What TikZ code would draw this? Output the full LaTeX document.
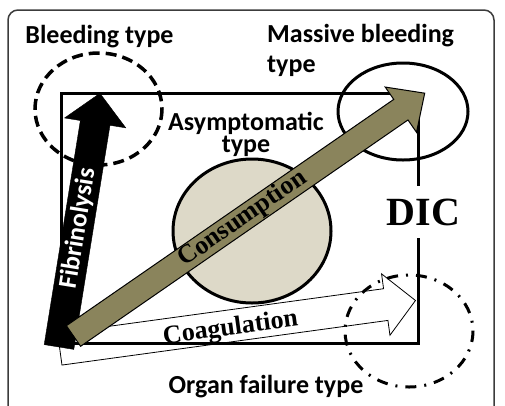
\documentclass[tikz,border=0pt]{standalone}
\usepackage{fontspec}
\setmainfont{Liberation Serif}
\newfontfamily\typefont{Carlito}
\usetikzlibrary{calc}
\definecolor{dicOlive}{RGB}{138,132,92}
\definecolor{dicBeige}{RGB}{221,217,200}
\definecolor{dicFrame}{RGB}{60,60,60}
% arrow shape along the local x axis: length, half shaft, half head, head length
\newcommand{\typearrow}[5]{%
  \draw[#1] (0,-#3) -- ({#2-#5},-#3) -- ({#2-#5},-#4) -- (#2,0)
    -- ({#2-#5},#4) -- ({#2-#5},#3) -- (0,#3) -- cycle;}

\tikzset{
  typelabel/.style={font=\typefont\bfseries\fontsize{26}{22}\selectfont, inner sep=0pt},
  arrowlabel/.style={font=\bfseries\fontsize{26}{28}\selectfont, inner sep=0pt},
  thickline/.style={line width=3pt},
}

\begin{document}
\begin{tikzpicture}[x=1pt,y=-1pt]
  \useasboundingbox (0,0) rectangle (505,405);
  % frame
  \draw[dicFrame, line width=1.5pt, rounded corners=10pt] (8,10) rectangle (494,420);

  % asymptomatic circle
  \draw[thickline, fill=dicBeige] (252,231) ellipse [x radius=79, y radius=72];

  % coagulation
  \begin{scope}[shift={(59.8,349.2)}, rotate=7.8, transform shape]
    \typearrow{fill=white, line width=0.8pt}{359}{16}{31}{30}
    \node[arrowlabel] (coag) at (172,3) {Coagulation};
  \end{scope}

  % the DIC box
  \draw[thickline] (61,93) rectangle (418,343);

  % massive bleeding and bleeding types
  \draw[thickline] (403,111.5) ellipse [x radius=65, y radius=48.5];
  \draw[line width=3.5pt, dash pattern=on 11pt off 6pt] (98.5,109) ellipse [x radius=63.5, y radius=56];

  % fibrinolysis
  \begin{scope}[shift={(59,347)}, rotate=80.83, transform shape]
    \typearrow{fill=black}{257}{15}{31}{30}
    \node[typelabel, text=white] (fib) at (120,0) {Fibrinolysis};
  \end{scope}

  % consumption
  \begin{scope}[shift={(73.5,336)}, rotate=34.66, transform shape]
    \typearrow{fill=dicOlive, line width=1pt}{427}{12.5}{27.5}{29}
    \node[arrowlabel] (cons) at (206,0) {Consumption};
  \end{scope}

  % organ failure type
  \draw[thickline, dash pattern=on 11pt off 8pt on 2pt off 8pt] (409,331) ellipse [x radius=64, y radius=56];

  % labels
  \node[typelabel, anchor=base] (bleed) at (99.5,43) {Bleeding type};
  \node[typelabel, anchor=base west, align=left, font=\typefont\bfseries\fontsize{26}{30}\selectfont] (massive) at (267,72) {Massive bleeding\\type};
  \node[typelabel, anchor=base, align=center] (asym) at (246,152) {Asymptomatic\\type};
  \node[typelabel, anchor=base] (organ) at (266,393) {Organ failure type};
  \node[font=\bfseries\fontsize{40}{40}\selectfont, fill=white, inner xsep=2pt, inner ysep=13pt] (dic) at (423.5,212) {DIC};
\end{tikzpicture}
\end{document}
